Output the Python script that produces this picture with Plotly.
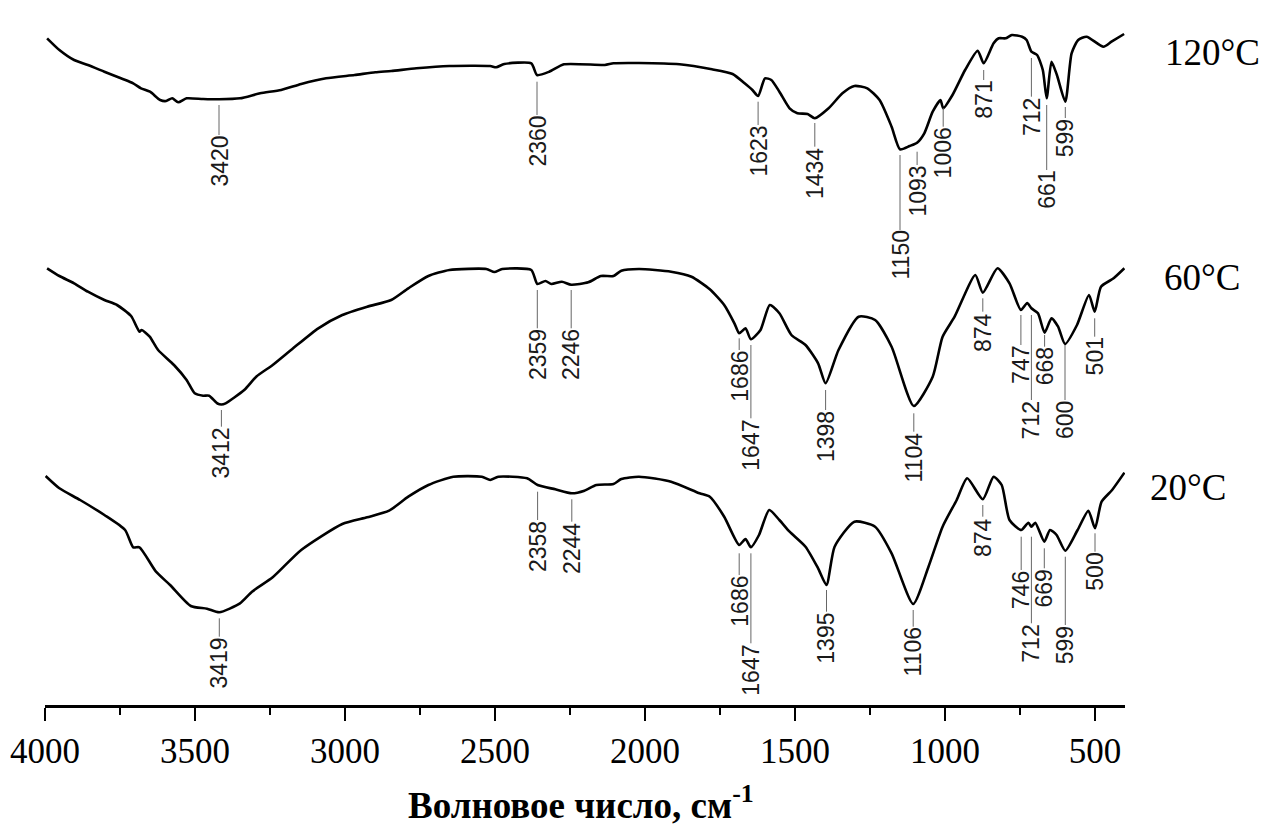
import plotly.graph_objects as go

# ---------------- data (wavenumber, cm-1 ; offset signal, arbitrary units, larger = lower on chart) -------------
wn_120 = [3993, 3952, 3903, 3857, 3802, 3747, 3706, 3680, 3650, 3616, 3596, 3576, 3556, 3528, 3473,
          3420, 3350, 3283, 3213, 3146, 3063, 2968, 2899, 2846, 2762, 2652, 2516, 2496, 2469, 2379,
          2360, 2319, 2270, 2134, 2105, 2020, 1885, 1777, 1708, 1668, 1642, 1623, 1600, 1579, 1552,
          1518, 1492, 1458, 1434, 1388, 1342, 1302, 1259, 1218, 1178, 1150, 1118, 1093, 1069, 1041,
          1015, 1006, 975, 933, 891, 871, 838, 821, 798, 777, 743, 728, 712, 693, 674,
          661, 645, 627, 599, 578, 556, 528, 472, 445, 403]
y_120 = [38.3, 50, 60, 65, 71.7, 78.3, 83.3, 88.3, 91.7, 100, 101, 98.3, 102.3, 98.3, 99,
         99.3, 98.3, 93.3, 90, 84, 78.3, 75, 72.3, 71, 68.3, 66, 66, 67.3, 64, 63.3,
         75, 71.7, 64.3, 65, 63.3, 63, 64.3, 69.3, 74, 83.3, 90, 96, 78.3, 80, 91.7,
         108.3, 113.3, 114, 118.3, 108.3, 93.3, 86, 88.3, 100, 126.7, 149.3, 146, 142.7, 133.3, 111.7,
         100, 108.3, 95, 70, 50.7, 63.3, 43.3, 38.3, 38.3, 35, 36.7, 40, 51.7, 55, 70,
         98.3, 61.7, 75, 101.7, 53.3, 40, 36.7, 46.7, 41.7, 34]

wn_60 = [3993, 3952, 3903, 3857, 3802, 3760, 3713, 3685, 3678, 3651, 3623, 3570, 3528, 3501, 3473,
         3453, 3425, 3412, 3398, 3336, 3296, 3241, 3173, 3089, 3009, 2926, 2846, 2789, 2722, 2652,
         2529, 2502, 2476, 2379, 2359, 2332, 2312, 2277, 2246, 2189, 2147, 2105, 2079, 2020, 1913,
         1845, 1784, 1736, 1702, 1686, 1665, 1647, 1615, 1584, 1552, 1512, 1465, 1423, 1398, 1355,
         1288, 1233, 1178, 1104, 1041, 1008, 968, 899, 874, 825, 785, 747, 726, 712, 690,
         668, 645, 623, 600, 560, 520, 501, 480, 438, 402]
y_60 = [268.3, 276, 283.3, 291.7, 300, 305, 316, 331.7, 330, 336.7, 350, 365, 380, 393.3, 395.7,
        395.7, 403.5, 404.5, 403.3, 390, 376.7, 365, 348.3, 328.3, 315, 306.7, 300, 288.3, 276, 270,
        269, 272, 269, 270, 284, 281, 284, 281.7, 284.7, 282.3, 276, 276, 270.7, 269, 271.7,
        276.7, 289.3, 305, 323.3, 333.3, 328.3, 339.3, 330, 305, 313.3, 335, 345, 363.3, 383.3, 350,
        316.7, 320, 346.7, 406, 376.7, 336.7, 316.7, 275, 292.7, 268.3, 283.3, 310, 303, 308.3, 313.3,
        332.7, 318.3, 326.7, 344, 325, 295, 311.7, 286.7, 278.3, 268.3]

wn_20 = [3998, 3952, 3883, 3802, 3733, 3706, 3685, 3630, 3583, 3514, 3460, 3419, 3350, 3310, 3241,
         3146, 3009, 2926, 2853, 2789, 2722, 2639, 2544, 2516, 2489, 2393, 2358, 2299, 2244, 2202,
         2162, 2105, 2079, 2020, 1913, 1818, 1784, 1736, 1686, 1665, 1647, 1620, 1586, 1552, 1518,
         1465, 1423, 1395, 1368, 1302, 1233, 1178, 1106, 1055, 1008, 961, 926, 874, 838, 811,
         785, 746, 722, 712, 699, 669, 650, 628, 599, 558, 522, 500, 478, 443, 402]
y_20 = [476, 488.3, 500, 515, 530, 547.3, 547.3, 571.7, 585, 606, 608.7, 612.3, 603.3, 591.7, 577.3,
        550, 524, 517.3, 510.7, 496.7, 485, 476.7, 476.7, 480, 476.7, 478.3, 485, 489.3, 493.3, 490.7,
        485, 484, 479, 476.7, 481.7, 493.3, 496.7, 516.7, 545, 539, 547.3, 535, 510, 520, 531.7,
        546.7, 568.3, 585, 546.7, 521.7, 526.7, 553.3, 604, 566.7, 526.7, 500, 478.3, 499.3, 476.7, 485,
        520, 530, 522.7, 526.7, 522.7, 541.7, 530, 535, 550.7, 530, 510.7, 528.3, 501.7, 490, 472.7]

# peak labels (wavenumbers)
pk_120 = [3420, 2360, 1623, 1434, 1150, 1093, 1006, 871, 712, 661, 599]
pk_60 = [3412, 2359, 2246, 1686, 1647, 1398, 1104, 874, 747, 712, 668, 600, 501]
pk_20 = [3419, 2358, 2244, 1686, 1647, 1395, 1106, 874, 746, 712, 669, 599, 500]

series_names = ["120°C", "60°C", "20°C"]
x_ticks = [4000, 3500, 3000, 2500, 2000, 1500, 1000, 500]

# ---------------- layout helpers (label leader geometry, same y units) ----------------
lead_top_120 = [105, 81.7, 101.7, 123, 155, 151.7, 108, 70, 58, 105, 107]
text_top_120 = [135, 115, 125, 146.7, 230, 165, 126.7, 80, 96.7, 170, 118]
lead_top_60 = [410, 290, 290, 338.3, 345, 390, 413.3, 298.3, 315, 315, 335, 345, 318.3]
text_top_60 = [426.7, 328.3, 328.3, 350, 418.3, 410, 431.7, 311.7, 345, 400, 346.7, 400, 336.7]
lead_top_20 = [618.3, 491.7, 499.3, 553.3, 553.3, 590, 610, 505, 536.7, 536.7, 548.3, 556.7, 533.3]
text_top_20 = [636.7, 520, 521.7, 575, 643.3, 611.7, 626.7, 516.7, 570, 623.3, 568.3, 625, 551.7]

# series-name positions in paper fractions
name_pos = [(1.035, 0.925), (1.034, 0.607), (1.021, 0.309)]

fig = go.Figure()

for wn, yy in [(wn_120, y_120), (wn_60, y_60), (wn_20, y_20)]:
    fig.add_trace(go.Scatter(x=wn, y=yy, mode="lines",
                             line=dict(color="black", width=2.6, shape="spline", smoothing=0.6),
                             showlegend=False, hoverinfo="skip"))

annotations = []
for pks, tops, texts in [(pk_120, lead_top_120, text_top_120),
                         (pk_60, lead_top_60, text_top_60),
                         (pk_20, lead_top_20, text_top_20)]:
    lx, ly = [], []
    for p, t, b in zip(pks, tops, texts):
        lx += [p, p, None]
        ly += [t, b, None]
        annotations.append(dict(x=p, y=b, xref="x", yref="y", text=str(p), showarrow=False,
                                textangle=-90, xanchor="center", yanchor="top", borderpad=0,
                                font=dict(family="Liberation Sans", size=23, color="#1a1a1a")))
    fig.add_trace(go.Scatter(x=lx, y=ly, mode="lines", line=dict(color="#666666", width=1),
                             showlegend=False, hoverinfo="skip"))

for name, (nx, ny) in zip(series_names, name_pos):
    annotations.append(dict(x=nx, y=ny, xref="paper", yref="paper", text=name, showarrow=False,
                            xanchor="left", yanchor="middle",
                            font=dict(family="Liberation Serif", size=37, color="black")))

annotations.append(dict(x=0.496, y=-0.139, xref="paper", yref="paper",
                        text="<b>Волновое число, см<sup>-1</sup></b>", showarrow=False,
                        xanchor="center", yanchor="middle",
                        font=dict(family="Liberation Serif", size=37, color="black")))

fig.update_layout(
    width=1277, height=830,
    margin=dict(l=45, r=152, t=0, b=125),
    paper_bgcolor="white", plot_bgcolor="white",
    annotations=annotations,
    xaxis=dict(range=[4000, 400], tickvals=x_ticks, ticktext=[str(v) for v in x_ticks],
               showline=True, linecolor="black", linewidth=2.5, showgrid=False, zeroline=False,
               ticks="outside", ticklen=13, tickwidth=2, tickcolor="black",
               tickfont=dict(family="Liberation Serif", size=35, color="black"),
               minor=dict(tickvals=[3750, 3250, 2750, 2250, 1750, 1250, 750], ticks="outside",
                          ticklen=7, tickwidth=2, tickcolor="black", showgrid=False)),
    yaxis=dict(range=[705, 0], visible=False, showgrid=False, zeroline=False),
)

fig.write_html("out.html")
